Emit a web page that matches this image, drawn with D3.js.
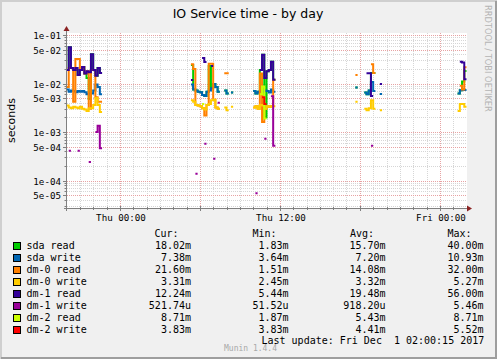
<!DOCTYPE html>
<html>
<head>
<meta charset="utf-8">
<script src="https://cdn.jsdelivr.net/npm/d3@7"></script>
<style>
html, body { margin: 0; padding: 0; background: #f0f0f0; }
svg { display: block; }
text { font-family: "DejaVu Sans Mono", monospace; white-space: pre; }
</style>
</head>
<body>
<svg id="chart" width="497" height="359"></svg>
<script>
const _ = null;

// start of each burst of samples, values are 10 minute steps
const burstStart = [
    new Date(2017, 10, 29, 20, 0),
    new Date(2017, 10, 30, 5, 20),
    new Date(2017, 10, 30, 10, 0),
    new Date(2017, 10, 30, 17, 40),
    new Date(2017, 11, 1, 1, 20)
];

const sdaRead = [
    [0.019, 0.056, 0.021, 0.019, 0.019, 0.015, 0.019, 0.022, 0.016, 0.013, 0.0048, 0.040, 0.019, 0.0145, 0.021, 0.0165],
    [0.024, 0.0075, 0.0072, 0.0068, 0.0066, 0.0058, 0.0055, 0.0068, 0.023, 0.0080, 0.0098, 0.0085, 0.0068, _, _, 0.0072, 0.0062, _, 0.0065],
    [0.0070, 0.0062, 0.0068, 0.019, 0.039, 0.0020, 0.018, 0.019, 0.028, 0.012],
    [0.0083, _, _, _, 0.0065, 0.0060, 0.0072, 0.0165, 0.0165, _, _, 0.0061],
    [0.0062, 0.0073, 0.011, 0.01802]
];
const sdaWrite = [
    [0.0075, 0.0068, 0.0072, 0.0070, 0.0066, 0.0070, 0.0068, 0.0070, 0.0066, 0.0060, 0.0062, 0.0062, 0.0072, 0.0095, 0.0085, 0.0060],
    [0.0095, 0.0075, 0.0072, 0.0068, 0.0066, 0.0058, 0.0055, 0.0068, 0.0072, 0.0080, 0.0098, 0.0085, 0.0068, _, _, 0.0072, 0.0062, _, 0.0065],
    [0.0070, 0.0062, 0.0068, 0.0070, 0.0068, 0.0072, 0.0070, 0.0065, 0.0075, 0.0068],
    [0.0083, _, _, _, 0.0065, 0.0060, 0.0072, 0.0108, 0.0070, _, _, 0.0061],
    [0.0062, 0.0073, 0.0075, 0.00738]
];
const dm0Read = [
    [0.0085, 0.021, 0.021, 0.0042, 0.032, 0.032, 0.019, 0.022, 0.016, 0.018, 0.0030, 0.019, 0.019, 0.0052, 0.0042, 0.0042],
    [0.025, 0.020, 0.0036, 0.0035, 0.0034, 0.0031, 0.0022, 0.0036, 0.0255, 0.0255, 0.0046, 0.0032, 0.0030, _, _, 0.0162, 0.0162, _, _],
    [0.0032, 0.0034, 0.0030, 0.016, 0.0016, 0.0030, 0.0034, 0.0033, 0.0034, 0.012],
    [0.015, _, _, _, _, _, _, 0.025, 0.0165, _, _, _],
    [_, 0.0090, 0.0075, 0.0216]
];
const dm0Write = [
    [0.0035, 0.0032, 0.0031, 0.0033, 0.0032, 0.0031, 0.0033, 0.0030, 0.0029, 0.0027, 0.0031, 0.0031, 0.0036, 0.0050, 0.0036, 0.0026],
    [0.0045, 0.0042, 0.0036, 0.0035, 0.0034, 0.0031, 0.0029, 0.0036, 0.0038, 0.0045, 0.0046, 0.0032, 0.0030, _, _, 0.0032, 0.0028, _, 0.0033],
    [0.0032, 0.0034, 0.0030, 0.0036, 0.0035, 0.0030, 0.0034, 0.0033, 0.0034, 0.0034],
    [0.0042, _, _, _, 0.0030, 0.0028, 0.0031, 0.0045, 0.0030, _, _, 0.0028],
    [0.0027, 0.0038, 0.0038, 0.00331]
];
const dm1Read = [
    [0.019, 0.056, 0.021, 0.019, 0.021, 0.015, 0.019, 0.022, 0.016, 0.018, 0.017, 0.040, 0.019, 0.0145, 0.021, 0.0165],
    [0.0118, _, _, _, _, 0.0335, 0.0277, _, _, 0.023, _, _, _, _, _, _, _, _, _],
    [_, _, _, 0.019, 0.039, 0.013, 0.018, 0.019, 0.028, 0.012],
    [_, _, _, _, _, 0.0162, 0.0162, 0.0055, _, _, _, 0.0098],
    [_, 0.028, 0.027, 0.01224]
];
const dm1Write = [
    [_, 4.1e-4, _, _, _, 4.1e-4, _, _, _, _, 2.4e-4, _, _, 1.0e-3, 1.35e-3, 4.6e-4],
    [_, _, 1.38e-4, _, _, _, 5.7e-4, _, _, _, 2.8e-4, _, 4.0e-3, _, _, _, _, _, _],
    [_, 5.45e-5, _, _, _, 7.3e-4, _, _, 5.46e-3, 5.2e-4],
    [_, _, _, _, _, _, _, 5.2e-4, _, _, _, _],
    [_, _, _, _]
];
const dm2Read = [
    [],
    [_, _, _, _, _, 0.0038],
    [_, _, _, 0.0060, 0.0087, 0.0019, _, _, _, _],
    [],
    []
];
const dm2Write = [
    [],
    [],
    [_, _, _, _, 0.0052, 0.0038, _, _, _, _],
    [],
    []
];

const seriesNames = ["sda read", "sda write", "dm-0 read", "dm-0 write", "dm-1 read", "dm-1 write", "dm-2 read", "dm-2 write"];
const seriesColors = ["#00CC00", "#0066B3", "#FF8000", "#FFCC00", "#330099", "#990099", "#CCFF00", "#FF0000"];
const seriesData = [sdaRead, sdaWrite, dm0Read, dm0Write, dm1Read, dm1Write, dm2Read, dm2Write];

const curVals = ["18.02m", "7.38m", "21.60m", "3.31m", "12.24m", "521.74u", "8.71m", "3.83m"];
const minVals = ["1.83m", "3.64m", "1.51m", "2.45m", "5.44m", "51.52u", "1.87m", "3.83m"];
const avgVals = ["15.70m", "7.20m", "14.08m", "3.32m", "19.48m", "918.20u", "5.43m", "4.41m"];
const maxVals = ["40.00m", "10.93m", "32.00m", "5.27m", "56.00m", "5.46m", "8.71m", "5.52m"];

const yLabelMantissa = [1, 5];

const svg = d3.select("#chart");
const W = 497, H = 359;
const plot = {left: 66.5, right: 466.5, top: 33, bottom: 208};

// frame
svg.append("rect").attr("width", W).attr("height", H).attr("fill", "#f0f0f0");
svg.append("path").attr("d", `M1,${H} V1 H${W}`).attr("stroke", "#cfcfcf").attr("stroke-width", 2).attr("fill", "none");
svg.append("path").attr("d", `M1,${H - 1} H${W - 1} V1`).attr("stroke", "#9e9e9e").attr("stroke-width", 2).attr("fill", "none");

svg.append("rect")
    .attr("x", 67).attr("y", plot.top)
    .attr("width", 400).attr("height", plot.bottom - plot.top)
    .attr("fill", "#ffffff");

let x = d3.scaleTime()
    .domain([new Date(2017, 10, 29, 20, 0), new Date(2017, 11, 1, 2, 0)])
    .range([plot.left, plot.right]);
let y = d3.scaleLog()
    .domain([2.71e-5, 0.11])
    .range([plot.bottom, plot.top]);

// grid
const grid = svg.append("g");
const hours = d3.timeHour.range(d3.timeHour.offset(x.domain()[0], 1), x.domain()[1]);
hours.forEach(h => {
    const major = h.getHours() % 6 === 0;
    const px = Math.round(x(h)) + 0.5;
    grid.append("line")
        .attr("x1", px).attr("x2", px)
        .attr("y1", plot.top).attr("y2", plot.bottom)
        .attr("stroke", major ? "#e7a3a3" : "#d6d6d6")
        .attr("stroke-dasharray", "1,1");
});

const yGrid = [];
for (let k = -5; k <= -1; k++) {
    for (let m = 1; m <= 9; m++) {
        const v = m * Math.pow(10, k);
        if (v >= y.domain()[0] && v <= y.domain()[1]) yGrid.push({v, m, k});
    }
}
yGrid.forEach(g => {
    const major = yLabelMantissa.includes(g.m);
    const py = Math.round(y(g.v)) + 0.5;
    grid.append("line")
        .attr("x1", 67).attr("x2", 467)
        .attr("y1", py).attr("y2", py)
        .attr("stroke", major ? "#e7a3a3" : "#d6d6d6")
        .attr("stroke-dasharray", "1,1");
    svg.append("line")
        .attr("x1", major ? 63 : 64.5).attr("x2", 67)
        .attr("y1", py).attr("y2", py)
        .attr("stroke", "#808080");
    if (major) {
        svg.append("text")
            .attr("x", 61).attr("y", py + 3.5)
            .attr("text-anchor", "end")
            .attr("font-size", "9.2px")
            .attr("fill", "#000")
            .text(`${g.m}e-${String(-g.k).padStart(2, "0")}`);
    }
});

// x ticks and labels
hours.forEach(h => {
    const major = h.getHours() % 6 === 0;
    const px = Math.round(x(h)) + 0.5;
    svg.append("line")
        .attr("x1", px).attr("x2", px)
        .attr("y1", major ? 206 : 207).attr("y2", major ? 211 : 210)
        .attr("stroke", "#808080");
    if (h.getHours() % 12 === 0) {
        svg.append("text")
            .attr("x", px + 0.5).attr("y", 220.5)
            .attr("text-anchor", "middle")
            .attr("font-size", "9.2px")
            .text(d3.timeFormat("%a %H:%M")(h));
    }
});

// series
const clip = svg.append("clipPath").attr("id", "plotclip")
    .append("rect").attr("x", 67).attr("y", plot.top).attr("width", 400).attr("height", plot.bottom - plot.top);

function stepPoints(runs) {
    const pts = [];
    runs.forEach((vals, b) => {
        vals.forEach((v, i) => {
            if (v == null) { pts.push({t: null, v: null}); return; }
            pts.push({t: d3.timeMinute.offset(burstStart[b], i * 10), v});
            pts.push({t: d3.timeMinute.offset(burstStart[b], (i + 1) * 10), v});
        });
        pts.push({t: null, v: null});
    });
    return pts;
}

const line = d3.line()
    .defined(d => d.v != null)
    .x(d => x(d.t))
    .y(d => y(d.v));

const lines = svg.append("g").attr("clip-path", "url(#plotclip)");
seriesData.forEach((runs, j) => {
    lines.append("path")
        .attr("d", line(stepPoints(runs)))
        .attr("fill", "none")
        .attr("stroke", seriesColors[j])
        .attr("stroke-width", 2);
});

// axes with arrows
svg.append("line").attr("x1", 64).attr("x2", 468).attr("y1", 208.5).attr("y2", 208.5).attr("stroke", "#808080");
svg.append("line").attr("x1", 66.5).attr("x2", 66.5).attr("y1", 211).attr("y2", 30).attr("stroke", "#808080");
svg.append("path").attr("d", "M467,205.5 L472,208.5 L467,211.5 Z").attr("fill", "#8b2222");
svg.append("path").attr("d", "M63.5,31 L66.5,26 L69.5,31 Z").attr("fill", "#8b2222");

// titles
svg.append("text")
    .attr("x", 248).attr("y", 17.5)
    .attr("text-anchor", "middle")
    .style("font-family", "'DejaVu Sans', sans-serif")
    .attr("font-size", "12.5px")
    .text("IO Service time - by day");

svg.append("text")
    .attr("transform", "translate(15,120.5) rotate(-90)")
    .attr("text-anchor", "middle")
    .style("font-family", "'DejaVu Sans', sans-serif")
    .attr("font-size", "11px")
    .text("seconds");

svg.append("text")
    .attr("transform", "translate(485,5) rotate(90)")
    .style("font-family", "'DejaVu Sans', sans-serif")
    .attr("font-size", "8.3px")
    .attr("fill", "#b4b4b4")
    .text("RRDTOOL / TOBI OETIKER");

// legend
const headers = [["Cur:", 154.5], ["Min:", 252.5], ["Avg:", 350], ["Max:", 447.5]];
headers.forEach(h => {
    svg.append("text").attr("x", h[1]).attr("y", 237).attr("font-size", "10px").text(h[0]);
});

const columns = [[curVals, 191], [minVals, 288.5], [avgVals, 385.5], [maxVals, 483.5]];
seriesNames.forEach((name, i) => {
    const base = 249 + i * 12;
    svg.append("rect")
        .attr("x", 13.5).attr("y", base - 6.5)
        .attr("width", 7).attr("height", 7)
        .attr("fill", seriesColors[i])
        .attr("stroke", "#000");
    svg.append("text").attr("x", 26.5).attr("y", base).attr("font-size", "10px").text(name);
    columns.forEach(c => {
        svg.append("text")
            .attr("x", c[1]).attr("y", base)
            .attr("text-anchor", "end")
            .attr("font-size", "10px")
            .text(c[0][i]);
    });
});

svg.append("text")
    .attr("x", 261.5).attr("y", 343.5)
    .attr("font-size", "10px")
    .text("Last update: Fri Dec  1 02:00:15 2017");

svg.append("text")
    .attr("x", 224).attr("y", 351)
    .attr("font-size", "8px")
    .attr("fill", "#a8a8a8")
    .text("Munin 1.4.4");
</script>
</body>
</html>
